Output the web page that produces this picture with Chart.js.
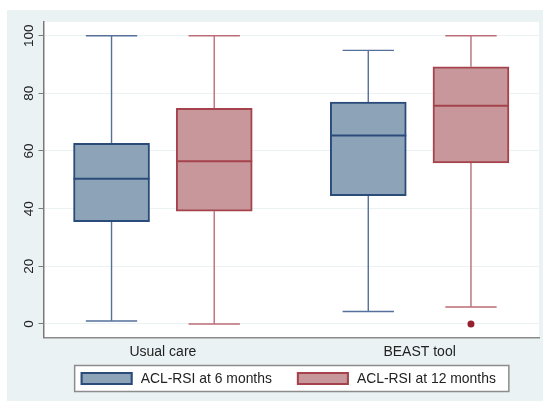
<!DOCTYPE html>
<html><head><meta charset="utf-8">
<script src="https://cdn.jsdelivr.net/npm/chart.js@4.4.1/dist/chart.umd.min.js"></script>
<style>html,body{margin:0;padding:0;background:#fff}#wrap{width:543px;height:401px;position:relative}</style>
</head><body><div id="wrap"><canvas id="c" width="543" height="401"></canvas></div>
<script>
// ---- data ----
const categories = ['Usual care', 'BEAST tool'];
const seriesNames = ['ACL-RSI at 6 months', 'ACL-RSI at 12 months'];
const yTickValues = [0, 20, 40, 60, 80, 100];
// 6 months
const min6 = [1, 4.3];
const q1_6 = [35.5, 44.5];
const med6 = [50.4, 65.4];
const q3_6 = [62.7, 77.0];
const max6 = [100, 94.9];
const out6 = [[], []];
// 12 months
const min12 = [0, 5.9];
const q1_12 = [39.1, 55.9];
const med12 = [56.4, 75.7];
const q3_12 = [74.8, 89.2];
const max12 = [100, 100];
const out12 = [[], [0]];

// ---- style ----
const FONT = "'Liberation Sans', Arial, sans-serif";
const styles = [
  {fill: '#8da3b8', border: '#2b4c7a', whisker: '#56709c', dot: '#2b4c7a'},
  {fill: '#c8979b', border: '#a5434c', whisker: '#bb6e75', dot: '#952030'}
];
const offsets = [-0.2, 0.2];
const stats = [
  {min: min6, q1: q1_6, med: med6, q3: q3_6, max: max6, out: out6},
  {min: min12, q1: q1_12, med: med12, q3: q3_12, max: max12, out: out12}
];

const boxDatasets = stats.map((s, k) => ({
  type: 'bar',
  label: seriesNames[k],
  data: categories.map((c, i) => ({x: i + 1 + offsets[k], y: [s.q1[i], s.q3[i]]})),
  backgroundColor: styles[k].fill,
  borderColor: styles[k].border,
  borderWidth: 2,
  borderSkipped: false,
  grouped: false,
  barThickness: 76
}));
const outlierDatasets = stats.map((s, k) => ({
  type: 'scatter',
  label: seriesNames[k] + ' outliers',
  data: categories.flatMap((c, i) => s.out[i].map(v => ({x: i + 1 + offsets[k], y: v}))),
  backgroundColor: styles[k].dot,
  borderColor: styles[k].dot,
  pointRadius: 3.5,
  pointBorderWidth: 0
}));

const bgPlugin = {
  id: 'bg',
  beforeDraw(chart) {
    const {ctx, chartArea: a} = chart;
    ctx.save();
    ctx.fillStyle = '#ffffff';
    ctx.fillRect(0, 0, chart.width, chart.height);
    ctx.fillStyle = '#eaf2f3';
    ctx.fillRect(7, 10, chart.width - 7, chart.height - 10);
    ctx.fillStyle = '#ffffff';
    ctx.fillRect(a.left, a.top, a.right - a.left, a.bottom - a.top);
    ctx.restore();
  }
};

// legend box drawn below the x axis, centred on the plot area
const legendPlugin = {
  id: 'boxLegend',
  afterDraw(chart) {
    const {ctx, chartArea: a} = chart;
    const sw = 52, sh = 13, gapText = 8, gapItem = 25, fs = 13.9;
    const cy = 378.5;
    ctx.save();
    ctx.font = fs + 'px ' + FONT;
    const items = boxDatasets.map(d => ({d, w: ctx.measureText(d.label).width}));
    const total = items.reduce((t, it) => t + sw + gapText + it.w, 0) + gapItem * (items.length - 1);
    let x = (a.left + a.right) / 2 - total / 2 - 3;
    const bx0 = x - 6, bx1 = x + total + 13;
    const by0 = cy - 13, by1 = cy + 13;
    ctx.fillStyle = '#ffffff';
    ctx.fillRect(bx0, by0, bx1 - bx0, by1 - by0);
    ctx.strokeStyle = '#8c8c8c';
    ctx.lineWidth = 1.5;
    ctx.strokeRect(bx0, by0, bx1 - bx0, by1 - by0);
    items.forEach(it => {
      ctx.fillStyle = it.d.backgroundColor;
      ctx.fillRect(x, cy - sh / 2, sw, sh);
      ctx.strokeStyle = it.d.borderColor;
      ctx.lineWidth = 2;
      ctx.strokeRect(x + 1, cy - sh / 2 + 1, sw - 2, sh - 2);
      x += sw + gapText;
      ctx.fillStyle = '#222';
      ctx.textBaseline = 'middle';
      ctx.textAlign = 'left';
      ctx.fillText(it.d.label, x, cy + 0.5);
      x += it.w + gapItem;
    });
    ctx.restore();
  }
};

const whiskerPlugin = {
  id: 'whiskers',
  beforeDatasetsDraw(chart) {
    const {ctx, scales: {x, y}} = chart;
    const capHalf = (x.getPixelForValue(0.2) - x.getPixelForValue(0)) / 2;
    ctx.save();
    stats.forEach((s, k) => {
      const meta = chart.getDatasetMeta(k);
      meta.data.forEach((el, i) => {
        const px = el.x;
        ctx.strokeStyle = styles[k].whisker;
        ctx.lineWidth = 1.4;
        ctx.beginPath();
        ctx.moveTo(px, y.getPixelForValue(s.q3[i]));
        ctx.lineTo(px, y.getPixelForValue(s.max[i]));
        ctx.moveTo(px, y.getPixelForValue(s.q1[i]));
        ctx.lineTo(px, y.getPixelForValue(s.min[i]));
        ctx.moveTo(px - capHalf, y.getPixelForValue(s.max[i]));
        ctx.lineTo(px + capHalf, y.getPixelForValue(s.max[i]));
        ctx.moveTo(px - capHalf, y.getPixelForValue(s.min[i]));
        ctx.lineTo(px + capHalf, y.getPixelForValue(s.min[i]));
        ctx.stroke();
      });
    });
    ctx.restore();
  },
  afterDatasetsDraw(chart) {
    const {ctx, scales: {y}} = chart;
    ctx.save();
    stats.forEach((s, k) => {
      const meta = chart.getDatasetMeta(k);
      meta.data.forEach((el, i) => {
        const py = y.getPixelForValue(s.med[i]);
        ctx.strokeStyle = styles[k].border;
        ctx.lineWidth = 2;
        ctx.beginPath();
        ctx.moveTo(el.x - el.width / 2, py);
        ctx.lineTo(el.x + el.width / 2, py);
        ctx.stroke();
      });
    });
    ctx.restore();
  }
};

new Chart(document.getElementById('c'), {
  type: 'bar',
  data: {datasets: [...boxDatasets, ...outlierDatasets]},
  options: {
    responsive: false,
    animation: false,
    devicePixelRatio: 1,
    layout: {padding: {top: 22, right: 1, bottom: 40.5, left: 0}},
    plugins: {
      tooltip: {enabled: false},
      legend: {display: false}
    },
    scales: {
      x: {
        type: 'linear',
        offset: false,
        min: 0.535,
        max: 2.465,
        afterBuildTicks: s => { s.ticks = categories.map((c, i) => ({value: i + 1})); },
        afterFit: s => { s.height = 23; },
        grid: {display: false, drawTicks: false},
        border: {display: true, color: '#8a8a8a', width: 1.5},
        ticks: {
          padding: 6,
          color: '#222',
          font: {family: FONT, size: 14},
          callback: v => categories[Math.round(v) - 1] || ''
        }
      },
      y: {
        type: 'linear',
        min: -4.7,
        max: 104.75,
        afterBuildTicks: s => { s.ticks = yTickValues.map(v => ({value: v})); },
        afterFit: s => { s.width = 43.5; },
        grid: {color: '#eaf2f3', lineWidth: 1, tickColor: '#7a7a7a', tickLength: 5},
        border: {display: true, color: '#7a7a7a', width: 1.5},
        ticks: {
          minRotation: 90,
          maxRotation: 90,
          crossAlign: 'center',
          padding: -2,
          color: '#222',
          font: {family: FONT, size: 13.5}
        }
      }
    }
  },
  plugins: [bgPlugin, whiskerPlugin, legendPlugin]
});
</script>
</body></html>
